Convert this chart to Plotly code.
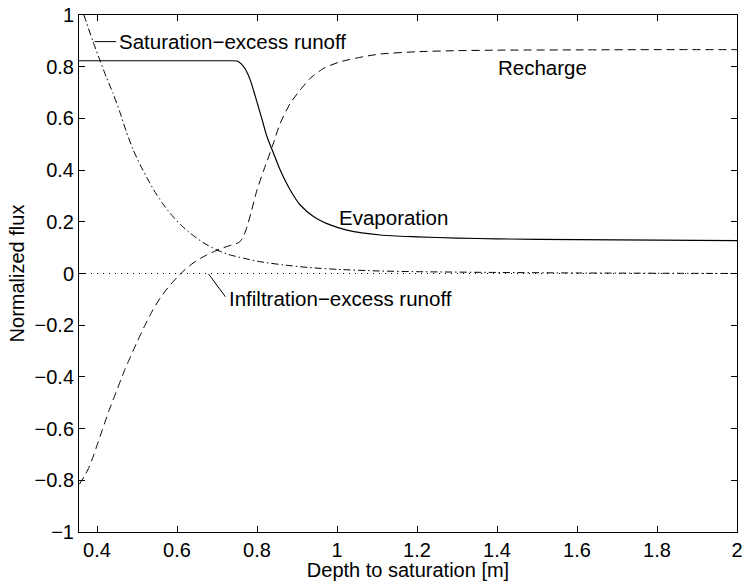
import plotly.graph_objects as go

# ---- data ----
evap_x = [0.355, 0.40, 0.50, 0.60, 0.70, 0.735, 0.750, 0.760, 0.771, 0.783, 0.796, 0.813, 0.825,
          0.838, 0.858, 0.883, 0.908, 0.942, 0.983, 1.025, 1.108, 1.2, 1.3, 1.4, 1.6, 1.8, 2.0]
evap_y = [0.823, 0.823, 0.823, 0.823, 0.823, 0.823, 0.822, 0.812, 0.790, 0.749, 0.684, 0.594, 0.529,
          0.478, 0.400, 0.323, 0.265, 0.220, 0.188, 0.168, 0.149, 0.142, 0.137, 0.134, 0.131, 0.129, 0.127]

rech_x = [0.356, 0.37, 0.38, 0.39, 0.40, 0.41, 0.42, 0.43, 0.44, 0.45, 0.46, 0.47, 0.48, 0.49,
          0.50, 0.52, 0.54, 0.56, 0.58, 0.60, 0.62, 0.64, 0.66, 0.68, 0.70, 0.72, 0.74, 0.755,
          0.765, 0.775, 0.785, 0.80, 0.817, 0.838, 0.858, 0.883, 0.908, 0.933, 0.967, 1.008,
          1.067, 1.108, 1.2, 1.3, 1.4, 1.6, 1.8, 2.0]
rech_y = [-0.815, -0.78, -0.75, -0.71, -0.665, -0.62, -0.575, -0.53, -0.49, -0.45, -0.41, -0.37,
          -0.335, -0.30, -0.265, -0.20, -0.14, -0.09, -0.05, -0.015, 0.015, 0.04, 0.06, 0.076,
          0.09, 0.102, 0.112, 0.12, 0.14, 0.18, 0.235, 0.323, 0.40, 0.49, 0.581, 0.658, 0.71,
          0.755, 0.794, 0.819, 0.839, 0.849, 0.858, 0.862, 0.864, 0.865, 0.866, 0.866]

sat_x = [0.367, 0.373, 0.39, 0.407, 0.423, 0.44, 0.457, 0.473, 0.49, 0.508, 0.525, 0.542, 0.562,
         0.583, 0.608, 0.633, 0.665, 0.70, 0.73, 0.767, 0.81, 0.867, 0.93, 1.0, 1.1, 1.2, 1.4,
         1.6, 1.8, 2.0]
sat_y = [1.0, 0.974, 0.897, 0.826, 0.761, 0.697, 0.625, 0.55, 0.48, 0.42, 0.37, 0.323, 0.275,
         0.233, 0.19, 0.156, 0.12, 0.091, 0.073, 0.059, 0.045, 0.033, 0.023, 0.016, 0.010, 0.007,
         0.004, 0.002, 0.001, 0.0]

inf_x = [0.355, 2.0]
inf_y = [0.0, 0.0]

x_ticks = [0.4, 0.6, 0.8, 1.0, 1.2, 1.4, 1.6, 1.8, 2.0]
x_ticktext = ["0.4", "0.6", "0.8", "1", "1.2", "1.4", "1.6", "1.8", "2"]
y_ticks = [-1, -0.8, -0.6, -0.4, -0.2, 0, 0.2, 0.4, 0.6, 0.8, 1]
y_ticktext = ["\u22121", "\u22120.8", "\u22120.6", "\u22120.4", "\u22120.2", "0",
              "0.2", "0.4", "0.6", "0.8", "1"]

# labels: (text, x, y, xanchor)
labels = [
    ("Saturation\u2212excess runoff", 0.451, 0.897, "left"),
    ("Recharge", 1.513, 0.795, "center"),
    ("Evaporation", 1.0, 0.218, "left"),
    ("Infiltration\u2212excess runoff", 0.726, -0.097, "left"),
]
# leader lines: (x0, y0, x1, y1)
leaders = [
    (0.394, 0.897, 0.448, 0.897),
    (0.679, -0.002, 0.721, -0.090),
]

FONT = "Liberation Sans, Arial, Helvetica, sans-serif"
line_col = "black"

fig = go.Figure()
fig.add_trace(go.Scatter(x=inf_x, y=inf_y, mode="lines",
                         line=dict(color=line_col, width=1, dash="1px,5px"), name="Infiltration-excess runoff"))
fig.add_trace(go.Scatter(x=sat_x, y=sat_y, mode="lines",
                         line=dict(color=line_col, width=1, dash="7px,3px,1.5px,3px",
                                   shape="spline", smoothing=0.6),
                         name="Saturation-excess runoff"))
fig.add_trace(go.Scatter(x=rech_x, y=rech_y, mode="lines",
                         line=dict(color=line_col, width=1, dash="8px,5px", shape="spline", smoothing=0.6),
                         name="Recharge"))
fig.add_trace(go.Scatter(x=evap_x, y=evap_y, mode="lines",
                         line=dict(color=line_col, width=1.2, shape="spline", smoothing=0.6),
                         name="Evaporation"))

for t, x, y, xa in labels:
    fig.add_annotation(x=x, y=y, text=t, showarrow=False, xanchor=xa, yanchor="middle",
                       font=dict(family=FONT, size=20.5, color="black"))
for x0, y0, x1, y1 in leaders:
    fig.add_shape(type="line", x0=x0, y0=y0, x1=x1, y1=y1, xref="x", yref="y",
                  line=dict(color="black", width=1))

axis_common = dict(showgrid=False, zeroline=False, showline=True, linecolor="black", linewidth=1,
                   mirror="ticks", ticks="inside", ticklen=6, tickcolor="black", tickwidth=1,
                   tickfont=dict(family=FONT, size=20, color="black"))

fig.update_layout(
    width=743, height=581,
    margin=dict(l=79, r=6, t=15, b=49),
    paper_bgcolor="white", plot_bgcolor="white",
    showlegend=False,
    xaxis=dict(range=[0.355, 2.0], tickvals=x_ticks, ticktext=x_ticktext,
               title=dict(text="Depth to saturation [m]", font=dict(family=FONT, size=20, color="black"),
                          standoff=0),
               automargin=False, **axis_common),
    yaxis=dict(range=[-1, 1], tickvals=y_ticks, ticktext=y_ticktext,
               title=dict(text="Normalized flux", font=dict(family=FONT, size=20, color="black"),
                          standoff=4),
               automargin=False, **axis_common),
)

fig.write_html("out.html")
